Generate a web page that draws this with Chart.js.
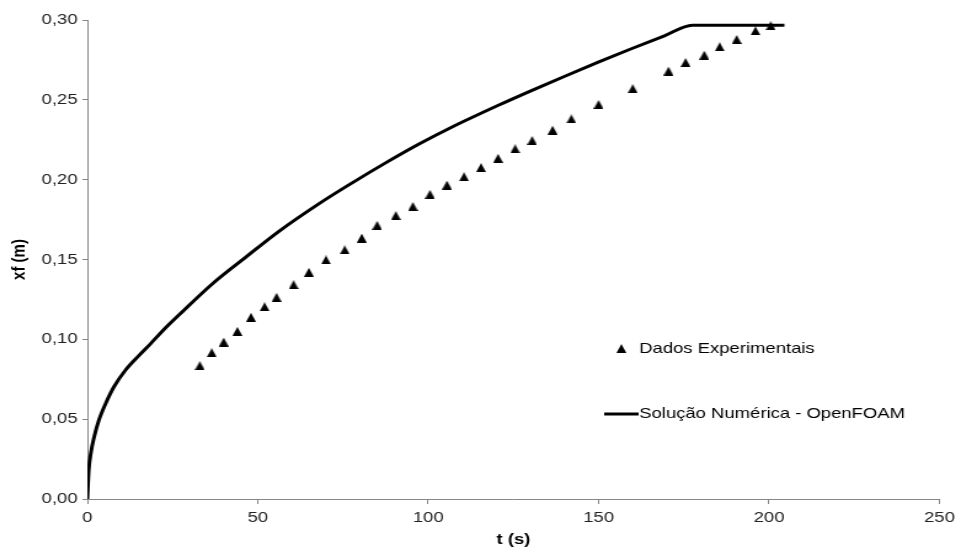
<!DOCTYPE html>
<html>
<head>
<meta charset="utf-8">
<script src="https://cdn.jsdelivr.net/npm/chart.js@4/dist/chart.umd.min.js"></script>
<style>
  html, body { margin: 0; padding: 0; background: #fff; }
  #xfChart { display: block; }
</style>
</head>
<body>
<!-- the reference is stretched sideways, so draw narrower and let the inline size widen it -->
<canvas id="xfChart" width="781" height="550" style="width:961px;height:550px"></canvas>
<script>
// experimental points
const expTime = [33, 36.5, 40, 44, 48, 52, 55.5, 60.5, 65, 70, 75.5, 80.5, 85, 90.5, 95.5,
    100.5, 105.5, 110.5, 115.5, 120.5, 125.5, 130.5, 136.5, 142, 150, 160, 170.5, 175.5,
    181, 185.5, 190.5, 196, 200.5];
const expXf = [0.0835, 0.0916, 0.0983, 0.105, 0.1138, 0.1204, 0.1263, 0.1342, 0.142, 0.1497,
    0.156, 0.1634, 0.1714, 0.1775, 0.1832, 0.1908, 0.1966, 0.2018, 0.2076, 0.2134, 0.2193,
    0.2245, 0.231, 0.238, 0.2471, 0.257, 0.268, 0.2734, 0.278, 0.2832, 0.2878, 0.2932, 0.2964];

// OpenFOAM curve
const numTime = [0, 0.4, 1.0, 2.0, 3.4, 5.4, 7.8, 11.2, 15.1, 18.5, 22.4, 27, 36.8, 46.5,
    56.3, 68, 77.7, 87.5, 97.3, 107, 120.6, 130.3, 140.1, 149.9, 159.6, 169.3, 177.5, 204.5];
const numXf = [0, 0.018, 0.0286, 0.039, 0.0495, 0.060, 0.0703, 0.0808, 0.0898, 0.0972, 0.106,
    0.1155, 0.135, 0.1515, 0.1678, 0.185, 0.198, 0.2105, 0.2223, 0.233, 0.2466, 0.2558, 0.2648,
    0.2736, 0.282, 0.2901, 0.2967, 0.2967];

const seriesNames = ['Dados Experimentais', 'Solução Numérica - OpenFOAM'];
const xTitle = 't (s)';
const yTitle = 'xf (m)';

const FONT = '"Liberation Sans", Arial, sans-serif';

// small triangle marker
const tri = document.createElement('canvas');
tri.width = 8;
tri.height = 9;
(function () {
    const c = tri.getContext('2d');
    c.fillStyle = '#000';
    c.beginPath();
    c.moveTo(4, 0);
    c.lineTo(8, 9);
    c.lineTo(0, 9);
    c.closePath();
    c.fill();
})();

const legendPlugin = {
    id: 'sideLegend',
    afterDraw: (chart) => {
        const { ctx, chartArea } = chart;
        const x0 = chartArea.left + 434;
        ctx.save();
        ctx.font = '15px ' + FONT;
        ctx.fillStyle = '#000';
        ctx.textBaseline = 'middle';
        ctx.drawImage(tri, x0 - 4, 349 - 5, 8, 9);
        ctx.fillText(seriesNames[0], x0 + 14.5, 349);
        ctx.strokeStyle = '#000';
        ctx.lineWidth = 3;
        ctx.beginPath();
        ctx.moveTo(x0 - 14, 414);
        ctx.lineTo(x0 + 14, 414);
        ctx.stroke();
        ctx.fillText(seriesNames[1], x0 + 14.5, 414);
        ctx.restore();
    }
};

const config = {
    type: 'scatter',
    data: {
        datasets: [{
            label: seriesNames[0],
            data: expTime.map((t, i) => ({ x: t, y: expXf[i] })),
            pointStyle: tri,
            pointRadius: 4,
            showLine: false
        }, {
            label: seriesNames[1],
            data: numTime.map((t, i) => ({ x: t, y: numXf[i] })),
            showLine: true,
            borderColor: '#000',
            borderWidth: 3,
            borderJoinStyle: 'round',
            pointRadius: 0,
            cubicInterpolationMode: 'monotone'
        }]
    },
    options: {
        responsive: false,
        devicePixelRatio: 1,
        animation: false,
        layout: { padding: { left: 0, right: 14, top: 20, bottom: 0 } },
        plugins: {
            legend: { display: false },
            tooltip: { enabled: false }
        },
        scales: {
            x: {
                type: 'linear',
                min: 0,
                max: 250,
                afterFit: (scale) => { scale.height = 51; },
                ticks: {
                    stepSize: 50,
                    padding: 5,
                    color: '#222',
                    font: { family: FONT, size: 15 }
                },
                grid: {
                    drawOnChartArea: false,
                    tickLength: 5,
                    color: '#868686',
                    tickColor: '#868686'
                },
                border: { color: '#868686', width: 1 },
                title: {
                    display: true,
                    text: xTitle,
                    color: '#000',
                    font: { family: FONT, size: 15, weight: 'bold' },
                    padding: { top: 0, bottom: 1 }
                }
            },
            y: {
                min: 0,
                max: 0.3,
                afterFit: (scale) => { scale.width = 71; },
                ticks: {
                    stepSize: 0.05,
                    padding: 4,
                    color: '#222',
                    font: { family: FONT, size: 15 },
                    callback: (v) => v.toFixed(2).replace('.', ',')
                },
                grid: {
                    drawOnChartArea: false,
                    tickLength: 4,
                    color: '#868686',
                    tickColor: '#868686'
                },
                border: { color: '#868686', width: 1 },
                title: {
                    display: true,
                    text: yTitle,
                    color: '#000',
                    font: { family: FONT, size: 15, weight: 'bold' },
                    padding: { top: 7, bottom: 0 }
                }
            }
        }
    },
    plugins: [legendPlugin]
};

const ctx = document.getElementById('xfChart').getContext('2d');
new Chart(ctx, config);
</script>
</body>
</html>
